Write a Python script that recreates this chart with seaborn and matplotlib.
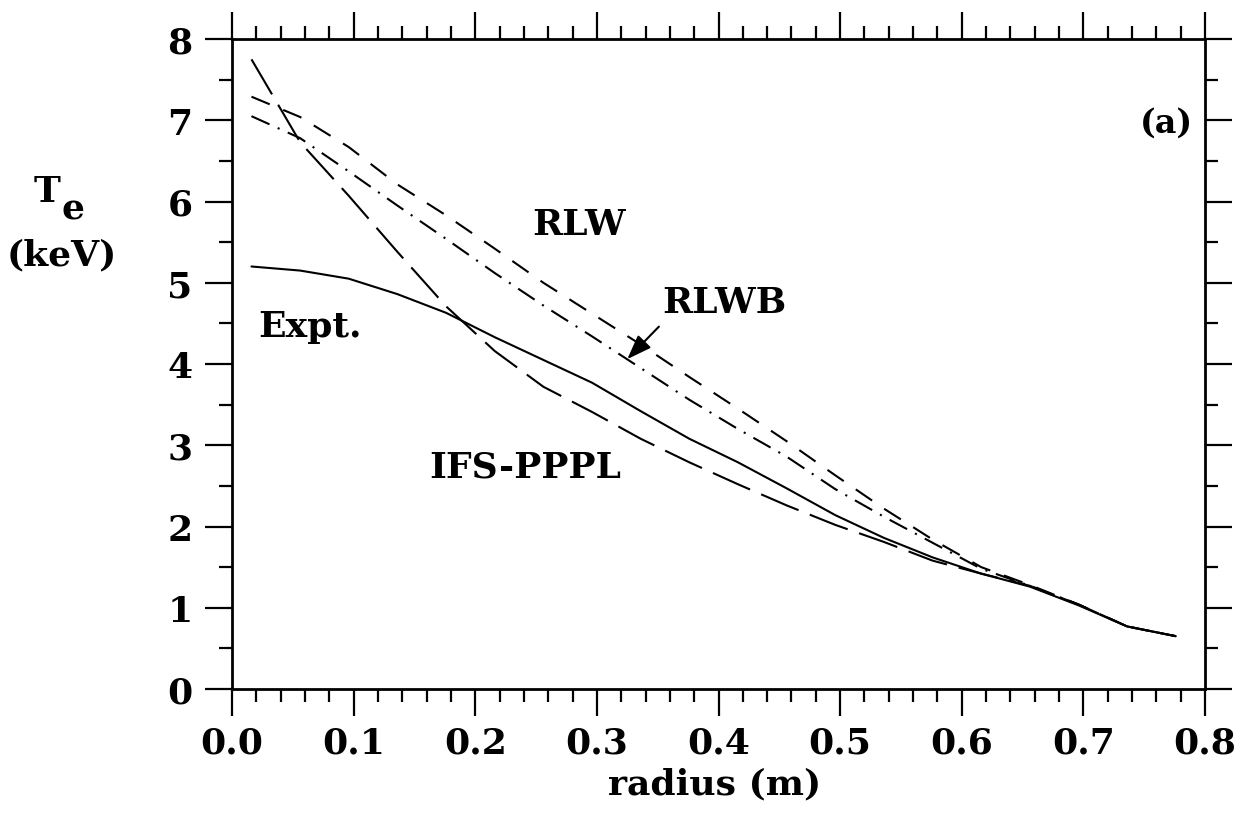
import numpy as np
import pandas as pd
import matplotlib
matplotlib.use("Agg")
import matplotlib.pyplot as plt
import seaborn as sns
from matplotlib.ticker import MultipleLocator

# ---- data ----
radius = [0.016, 0.056, 0.096, 0.136, 0.176, 0.216, 0.256, 0.296, 0.336, 0.376,
          0.416, 0.456, 0.496, 0.536, 0.576, 0.616, 0.656, 0.696, 0.736, 0.776]
expt = [5.20, 5.15, 5.05, 4.86, 4.63, 4.33, 4.05, 3.77, 3.42, 3.08,
        2.79, 2.47, 2.14, 1.86, 1.62, 1.42, 1.26, 1.03, 0.77, 0.65]
ifs_pppl = [7.75, 6.73, 6.07, 5.38, 4.71, 4.16, 3.72, 3.41, 3.08, 2.79,
            2.52, 2.26, 2.02, 1.81, 1.58, 1.42, 1.27, 1.04, 0.77, 0.65]
rlw = [7.29, 7.04, 6.67, 6.21, 5.83, 5.42, 5.00, 4.62, 4.24, 3.84,
       3.45, 3.05, 2.63, 2.22, 1.84, 1.50, 1.28, 1.04, 0.77, 0.65]
rlwb = [7.05, 6.78, 6.37, 5.95, 5.54, 5.12, 4.72, 4.34, 3.95, 3.56,
        3.20, 2.86, 2.46, 2.12, 1.80, 1.48, 1.27, 1.04, 0.77, 0.65]

x_ticks = [0.0, 0.1, 0.2, 0.3, 0.4, 0.5, 0.6, 0.7, 0.8]
x_tick_labels = ["0.0", "0.1", "0.2", "0.3", "0.4", "0.5", "0.6", "0.7", "0.8"]
y_ticks = [0, 1, 2, 3, 4, 5, 6, 7, 8]

sns.set_style("ticks")
plt.rcParams["font.family"] = ["DejaVu Serif"]
plt.rcParams["font.weight"] = "bold"
plt.rcParams["text.color"] = "black"
plt.rcParams["axes.labelcolor"] = "black"
plt.rcParams["xtick.color"] = "black"
plt.rcParams["ytick.color"] = "black"
plt.rcParams["xtick.labelcolor"] = "black"
plt.rcParams["ytick.labelcolor"] = "black"

W, H = 1251, 820
fig = plt.figure(figsize=(W / 100, H / 100), dpi=100)
ax = fig.add_axes([232 / W, 1 - 690 / H, (1205 - 232) / W, (690 - 40) / H])

series = [
    ("Expt.", expt, None),
    ("IFS-PPPL", ifs_pppl, (19.5, 5.8)),
    ("RLW", rlw, (9.5, 7.0)),
    ("RLWB", rlwb, (9.5, 4.3, 1.0, 4.3)),
]
for name, vals, dash in series:
    df = pd.DataFrame({"radius": radius, "Te": vals})
    sns.lineplot(data=df, x="radius", y="Te", ax=ax, color="black", lw=1.5,
                 estimator=None, sort=False, legend=False)
    line = ax.lines[-1]
    if dash is not None:
        line.set_dashes(dash)

ax.set_xlim(0.0, 0.8)
ax.set_ylim(0, 8)
ax.set_xticks(x_ticks)
ax.set_xticklabels(x_tick_labels)
ax.set_yticks(y_ticks)
ax.xaxis.set_minor_locator(MultipleLocator(0.02))
ax.yaxis.set_minor_locator(MultipleLocator(0.5))
ax.set_xlabel("")
ax.set_ylabel("")

for s in ax.spines.values():
    s.set_visible(True)
    s.set_linewidth(2.0)
    s.set_color("black")

ax.tick_params(which="both", direction="out", top=True, right=True,
               labeltop=False, labelright=False, color="black", width=1.6)
ax.tick_params(which="major", length=19.5, labelsize=26)
ax.tick_params(which="minor", length=9.5)
ax.tick_params(axis="x", which="major", pad=7)
ax.tick_params(axis="y", which="major", pad=9)
for lab in ax.get_xticklabels() + ax.get_yticklabels():
    lab.set_fontweight("bold")
    lab.set_color("black")

# annotations
tkw = dict(fontsize=26, fontweight="bold", color="black")
ax.text(0.285, 5.72, "RLW", ha="center", va="center", **tkw)
ax.text(0.405, 4.76, "RLWB", ha="center", va="center", **tkw)
ax.text(0.064, 4.47, "Expt.", ha="center", va="center", **tkw)
ax.text(0.241, 2.74, "IFS-PPPL", ha="center", va="center", **tkw)
ax.text(0.768, 6.98, "(a)", ha="center", va="center", fontsize=24,
        fontweight="bold", color="black")
ax.annotate("", xy=(0.325, 4.06), xytext=(0.351, 4.46),
            arrowprops=dict(arrowstyle="-|>,head_length=1.5,head_width=0.55",
                            color="black", lw=1.5, shrinkA=0, shrinkB=0))

# axis labels
def ft(x, y, s, **kw):
    fig.text(x / W, 1 - y / H, s, ha="center", va="center",
             fontsize=26, fontweight="bold", color="black", **kw)

ft(47, 192, "T")
ft(73, 210, "e")
ft(62, 255, "(keV)")
ft(715, 784, "radius (m)")

fig.savefig("out.png", dpi=100)
